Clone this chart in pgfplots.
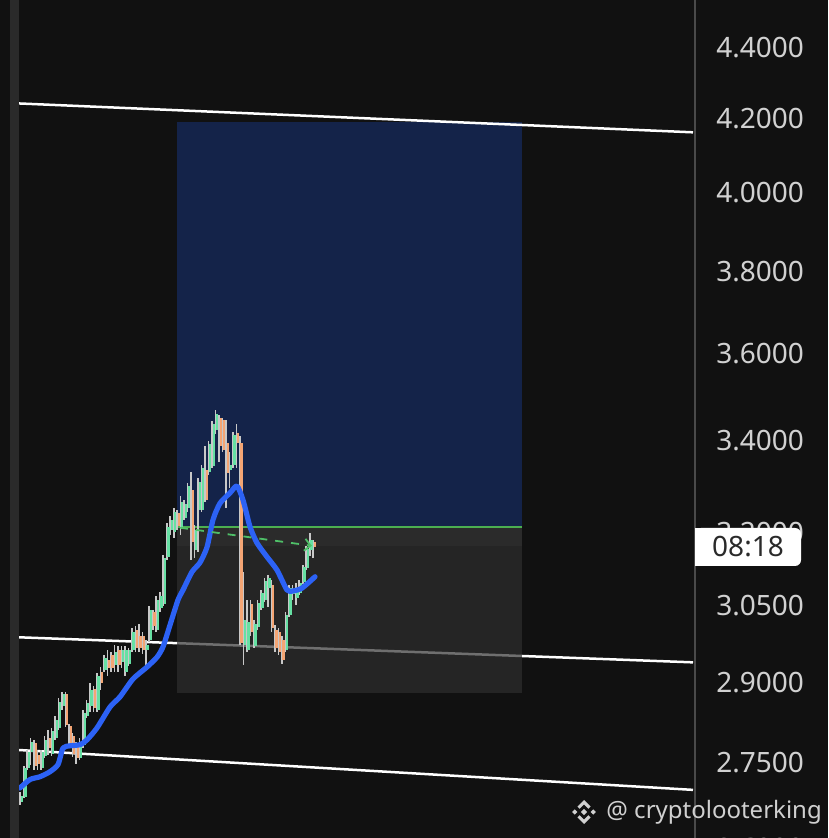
\documentclass[border=0pt]{standalone}
\usepackage{fontspec}
\setmainfont{Noto Sans}
\usepackage{pgfplots}
\usepackage{pgfplotstable}
\pgfplotsset{compat=1.18}
\usetikzlibrary{arrows.meta}
\definecolor{bgc}{HTML}{111111}
\definecolor{stripc}{HTML}{2A2A2A}
\definecolor{sepc}{HTML}{4A4A4A}
\definecolor{tickc}{HTML}{D1D1D1}
\definecolor{bluec}{HTML}{142349}
\definecolor{grayup}{HTML}{373737}
\definecolor{graylow}{HTML}{2F2F2F}
\definecolor{wickc}{HTML}{C8C8C8}
\definecolor{upc}{HTML}{66E0A3}
\definecolor{downc}{HTML}{F4A574}
\definecolor{mablue}{HTML}{2C62F6}
\definecolor{greenline}{HTML}{4CAF50}
\definecolor{dashgreen}{HTML}{4FBF68}
\definecolor{wmc}{HTML}{D0D0D0}
\definecolor{labelc}{HTML}{2A2A2A}

\pgfplotstableread{
i O H L C
0 2.680 2.698 2.675 2.691
1 2.689 2.745 2.687 2.741
2 2.741 2.773 2.738 2.770
3 2.770 2.796 2.746 2.788
4 2.786 2.792 2.738 2.745
5 2.764 2.773 2.738 2.748
6 2.741 2.773 2.738 2.770
7 2.763 2.799 2.759 2.792
8 2.796 2.810 2.764 2.777
9 2.766 2.814 2.763 2.809
10 2.796 2.836 2.792 2.829
11 2.814 2.870 2.810 2.862
12 2.855 2.881 2.847 2.878
13 2.878 2.881 2.816 2.820
14 2.818 2.822 2.777 2.783
15 2.799 2.805 2.761 2.766
16 2.781 2.788 2.748 2.759
17 2.759 2.796 2.755 2.788
18 2.783 2.847 2.777 2.842
19 2.836 2.866 2.833 2.860
20 2.855 2.899 2.844 2.885
21 2.887 2.893 2.844 2.851
22 2.847 2.918 2.844 2.912
23 2.920 2.929 2.885 2.899
24 2.924 2.952 2.920 2.947
25 2.943 2.962 2.912 2.927
26 2.952 2.958 2.920 2.927
27 2.933 2.972 2.920 2.958
28 2.962 2.970 2.920 2.933
29 2.939 2.970 2.927 2.962
30 2.920 2.970 2.912 2.962
31 2.935 2.966 2.931 2.962
32 2.962 3.005 2.958 2.998
33 3.001 3.009 2.958 2.966
34 2.990 3.013 2.958 2.966
35 2.990 2.998 2.954 2.962
36 2.962 2.982 2.927 2.972
37 2.982 3.049 2.978 3.041
38 3.037 3.041 3.001 3.009
39 3.001 3.069 2.998 3.061
40 3.045 3.077 3.037 3.069
41 3.053 3.153 3.049 3.147
42 3.149 3.220 3.143 3.212
43 3.205 3.235 3.195 3.227
44 3.201 3.252 3.188 3.243
45 3.241 3.248 3.205 3.214
46 3.210 3.278 3.195 3.265
47 3.231 3.269 3.227 3.260
48 3.252 3.306 3.243 3.299
49 3.291 3.330 3.143 3.180
50 3.163 3.216 3.147 3.205
51 3.248 3.317 3.159 3.308
52 3.248 3.345 3.243 3.339
53 3.334 3.387 3.265 3.269
54 3.330 3.398 3.323 3.392
55 3.343 3.444 3.339 3.437
56 3.423 3.468 3.414 3.459
57 3.450 3.457 3.352 3.387
58 3.446 3.450 3.374 3.378
59 3.394 3.446 3.252 3.328
60 3.334 3.374 3.295 3.345
61 3.345 3.419 3.339 3.412
62 3.416 3.437 3.339 3.394
63 3.394 3.410 2.972 2.976
64 2.972 3.118 2.933 3.021
65 2.962 3.061 2.958 3.017
66 3.053 3.061 2.990 2.998
67 2.970 3.021 2.966 3.013
68 3.007 3.061 3.001 3.055
69 3.045 3.081 3.041 3.075
70 3.061 3.106 3.057 3.100
71 3.085 3.112 3.047 3.106
72 3.091 3.102 2.998 3.005
73 3.001 3.011 2.958 2.966
74 2.998 3.005 2.952 2.958
75 2.982 2.990 2.935 2.943
76 2.962 3.037 2.958 3.031
77 3.031 3.091 3.027 3.085
78 3.073 3.091 3.061 3.081
79 3.065 3.096 3.051 3.085
80 3.075 3.102 3.071 3.096
81 3.098 3.132 3.094 3.128
82 3.126 3.172 3.122 3.165
83 3.163 3.199 3.151 3.184
84 3.180 3.184 3.147 3.169
}\candles

\begin{document}
\begin{tikzpicture}
\useasboundingbox (0,0) rectangle (414pt,419pt);
\clip (0,0) rectangle (414pt,419pt);
\fill[bgc] (0,0) rectangle (414pt,419pt);
\fill[stripc] (5pt,0) rectangle (9.25pt,419pt);
\draw[sepc, line width=0.9pt] (347.5pt,0) -- (347.5pt,419pt);
\begin{axis}[
  at={(9.5pt,-19.86pt)}, anchor=south west,
  scale only axis, width=337pt, height=438.86pt,
  xmin=-0.5734, xmax=192.66,
  ymode=log, ymin=2.55, ymax=4.5411,
  axis line style={draw=none},
  xtick=\empty,
  ytick={2.6,2.75,2.9,3.05,3.2,3.4,3.6,3.8,4.0,4.2,4.4},
  yticklabels={2.6000,2.7500,2.9000,3.0500,3.2000,3.4000,3.6000,3.8000,4.0000,4.2000,4.4000},
  yticklabel pos=right,
  major tick length=0pt,
  yticklabel style={anchor=west, inner sep=0pt, xshift=11.5pt,
    font=\fontsize{14}{16}\selectfont, text=tickc},
  candle/.style={only marks, mark=*, mark size=0pt, mark options={draw=none, fill=none}, forget plot},
]
% middle trend line (under the grey zone)
\addplot[white, line width=1.25pt] coordinates {(-0.5734,2.9866)(192.66,2.9379)};
% bottom trend line
\addplot[white, line width=1.25pt] coordinates {(-0.5734,2.7734)(192.66,2.7016)};
% profit zone
\addplot[draw=none, fill=bluec] coordinates {(44.72,3.2113)(143.49,3.2113)(143.49,4.1908)(44.72,4.1908)} -- cycle;
% loss zone
\addplot[draw=none, fill=graylow, fill opacity=0.69] coordinates {(44.72,2.8800)(143.49,2.8800)(143.49,3.172)(44.72,3.172)} -- cycle;
\addplot[draw=none, fill=grayup, fill opacity=0.69] coordinates {(44.72,3.172)(143.49,3.172)(143.49,3.2113)(44.72,3.2113)} -- cycle;
% top trend line
\addplot[white, line width=1.25pt] coordinates {(-0.5734,4.2425)(192.66,4.1627)};
% entry line
\addplot[greenline, line width=1pt] coordinates {(44.72,3.2113)(143.49,3.2113)};
% wicks
\addplot[candle,
  error bars/.cd, y dir=plus, y explicit, error mark=none,
  error bar style={line width=0.8pt, draw=wickc, solid}]
  table[x expr=\thisrow{i}-0.22, y=L, y error expr=\thisrow{H}-\thisrow{L}] {\candles};
% up bodies
\addplot[candle,
  restrict expr to domain={\thisrow{C}-\thisrow{O}}{0:1},
  error bars/.cd, y dir=plus, y explicit, error mark=none,
  error bar style={line width=1.15pt, draw=upc, solid}]
  table[x expr=\thisrow{i}+0.25, y=O, y error expr=\thisrow{C}-\thisrow{O}] {\candles};
% down bodies
\addplot[candle,
  restrict expr to domain={\thisrow{O}-\thisrow{C}}{0.0001:1},
  error bars/.cd, y dir=plus, y explicit, error mark=none,
  error bar style={line width=1.15pt, draw=downc, solid}]
  table[x expr=\thisrow{i}+0.25, y=C, y error expr=\thisrow{O}-\thisrow{C}] {\candles};
% moving average
\addplot[mablue, line width=2.6pt, line cap=round, line join=round, smooth, tension=0.4] coordinates {
(-0.29,2.705)(2.58,2.720)(5.45,2.725)(8.31,2.734)(10.61,2.747)(12.04,2.777)(14.05,2.781)(16.91,2.783)(18.92,2.792)(21.79,2.814)(25.52,2.853)(28.38,2.872)(32.11,2.906)(36.12,2.929)(38.99,2.948)(40.71,2.968)(42.72,3.011)(45.01,3.061)(46.45,3.081)(49.03,3.118)(51.32,3.137)(53.33,3.169)(55.05,3.227)(57.05,3.262)(59.92,3.284)(61.93,3.299)(63.65,3.269)(65.65,3.212)(67.66,3.178)(70.53,3.149)(73.39,3.122)(76.26,3.081)(77.98,3.079)(80.56,3.085)(84.29,3.108)};
% projection arrow
\addplot[dashgreen, line width=0.9pt, dash pattern=on 4pt off 4pt, -{Straight Barb[length=3pt,width=6pt]}] coordinates {(45.6,3.210)(83.4,3.172)};
\end{axis}
% current time label
\fill[white, rounded corners=3pt] (347.5pt,136pt) rectangle (400.5pt,155pt);
\fill[white] (347.5pt,136pt) rectangle (360pt,155pt);
\node[text=labelc, font=\fontsize{14}{16}\selectfont] at (374pt,145.5pt) {08:18};
% watermark
\begin{scope}[shift={(292pt,13pt)}]
 \fill[wmc] (0,-1.6pt) -- (1.6pt,0) -- (0,1.6pt) -- (-1.6pt,0) -- cycle;
 \fill[wmc] (-4.6pt,-1.3pt) -- (-3.3pt,0) -- (-4.6pt,1.3pt) -- (-5.9pt,0) -- cycle;
 \fill[wmc] (4.6pt,-1.3pt) -- (5.9pt,0) -- (4.6pt,1.3pt) -- (3.3pt,0) -- cycle;
 \fill[wmc] (0,6pt) -- (3.3pt,2.7pt) -- (2.2pt,1.6pt) -- (0,3.8pt) -- (-2.2pt,1.6pt) -- (-3.3pt,2.7pt) -- cycle;
 \fill[wmc] (0,-6pt) -- (3.3pt,-2.7pt) -- (2.2pt,-1.6pt) -- (0,-3.8pt) -- (-2.2pt,-1.6pt) -- (-3.3pt,-2.7pt) -- cycle;
\end{scope}
\node[anchor=west, inner sep=0pt, text=wmc, font=\fontsize{12}{14}\selectfont] at (303pt,13pt) {@ cryptolooterking};
\end{tikzpicture}
\end{document}
